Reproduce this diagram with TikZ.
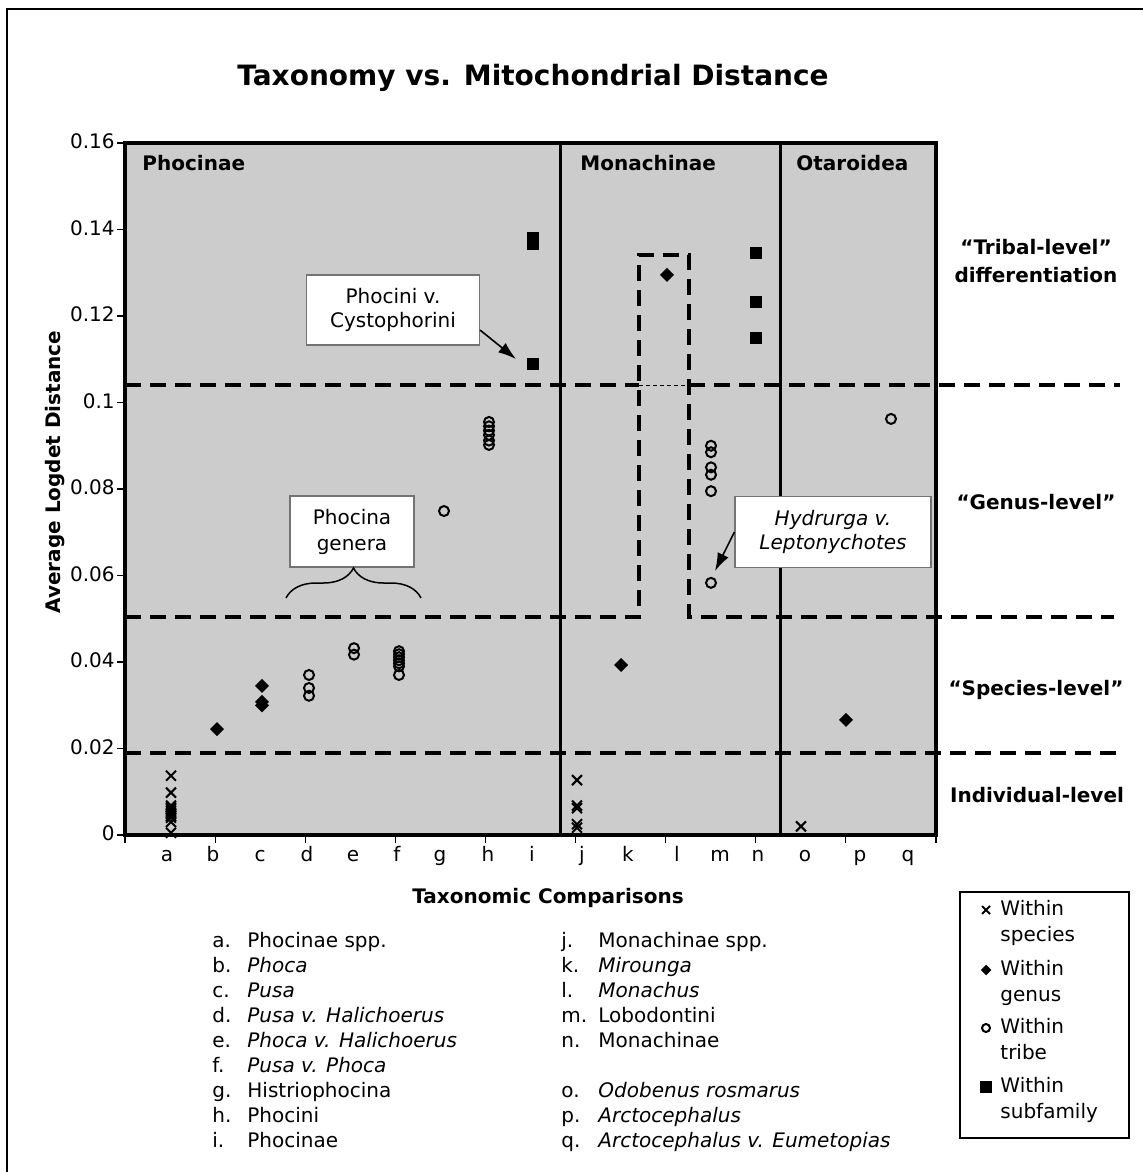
\documentclass[tikz,border=0pt]{standalone}
\usepackage{fontspec}
\setmainfont{DejaVu Sans}
\usetikzlibrary{arrows.meta,decorations.pathreplacing}
\definecolor{plotgray}{gray}{0.80}
\definecolor{boxedge}{gray}{0.45}

\tikzset{
  tl/.style={inner sep=0pt, text height=7.5pt, text depth=2pt, font=\fontsize{10}{12}\selectfont},
  tlb/.style={tl, font=\fontsize{10}{12}\selectfont\bfseries},
  levellabel/.style={inner sep=0pt, font=\fontsize{10}{14}\selectfont\bfseries, align=center},
  callbox/.style={draw=boxedge, line width=0.6pt, fill=white, inner sep=0pt, align=center,
                  font=\fontsize{10}{12}\selectfont},
  callarrow/.style={line width=0.8pt, -{Latex[length=9pt,width=6pt]}},
  levelline/.style={line width=2pt, dash pattern=on 8pt off 4.5pt},
  thinline/.style={line width=0.5pt, dash pattern=on 2pt off 1.5pt},
  xmk/.pic={\draw[line width=1pt] (-5,-5) -- (5,5) (-5,5) -- (5,-5);},
  dmk/.pic={\fill (0,-7) -- (7,0) -- (0,7) -- (-7,0) -- cycle;},
  omk/.pic={\draw[line width=1pt] (0,0) circle[radius=5];},
  smk/.pic={\fill (-6,-6) rectangle (6,6);},
}

\begin{document}
\begin{tikzpicture}[x=0.5pt,y=-0.5pt]
\useasboundingbox (0,0) rectangle (1143,1172);
\fill[white] (0,0) rectangle (1143,1172);

% outer frame (left and top edges)
\draw[line width=1.2pt] (7,1172) -- (7,9) -- (1143,9);

% title
\node[inner sep=0pt, anchor=base, font=\fontsize{14}{16}\selectfont\bfseries] (title) at (533,86)
  {Taxonomy vs. Mitochondrial Distance};

% plot area
\fill[plotgray] (125,143) rectangle (936,835);

% level thresholds
\draw[levelline] (125,385) -- (639,385);
\draw[levelline] (689,385) -- (1120,385);
\draw[thinline] (639,385) -- (689,385);
\draw[levelline] (125,617) -- (639,617) -- (639,255) -- (689,255) -- (689,617) -- (1114,617);
\draw[levelline] (125,753) -- (1120,753);

% subfamily separators
\draw[line width=1.5pt] (560,143) -- (560,835);
\draw[line width=1.5pt] (780,143) -- (780,835);

% frame and ticks
\draw[line width=2pt] (125,143) rectangle (936,835);
\foreach \k in {0,...,8}
  \draw[line width=0.6pt] (117,{835-86.5*\k}) -- (125,{835-86.5*\k});
\foreach \k in {0,...,9}
  \draw[line width=0.6pt] ({125+90.11*\k},835) -- ({125+90.11*\k},843);

% y tick labels
\foreach \v [count=\n] in {0,0.02,0.04,0.06,0.08,0.1,0.12,0.14,0.16}
  \node[tl, anchor=east] (yt\n) at (115,{835-86.5*(\n-1)}) {\v};

% x tick labels
\foreach \lab/\xx in {a/167,b/213,c/260,d/307,e/353,f/397,g/440,h/488,i/532,
                      j/582,k/628,l/677,m/720,n/758,o/805,p/860,q/908}
  \node[tl] (xt\lab) at (\xx,856) {\lab};

% axis titles
\node[tlb, rotate=90] (ytitle) at (55,472) {Average Logdet Distance};
\node[tlb] (xtitle) at (548,898) {Taxonomic Comparisons};

% group labels
\node[tlb, anchor=west] (gphoc) at (142,165) {Phocinae};
\node[tlb, anchor=west] (gmona) at (580,165) {Monachinae};
\node[tlb, anchor=west] (gotar) at (796,165) {Otaroidea};

% level labels
\node[levellabel] (lvtrib) at (1036,261) {“Tribal-level”\\differentiation};
\node[levellabel] (lvgen) at (1036,502) {“Genus-level”};
\node[levellabel] (lvspe) at (1036,690) {“Species-level”};
\node[levellabel] (lvind) at (1037,795) {Individual-level};

% within species
\foreach \v in {0.0137,0.0098,0.0068,0.0064,0.006,0.0056,0.0052,0.0048,0.0044,0.004,0.003,0.0005}
  \pic at (171,{835-4325*\v}) {xmk};
\foreach \v in {0.0127,0.0068,0.0062,0.0025,0.0017}
  \pic at (577,{835-4325*\v}) {xmk};
\pic at (801,{835-4325*0.002}) {xmk};

% within genus
\foreach \xx/\v in {217/0.0245,262/0.0345,262/0.0308,262/0.0300,621/0.0393,667/0.1295,846/0.0266}
  \pic at (\xx,{835-4325*\v}) {dmk};

% within tribe
\foreach \xx/\v in {309/0.037,309/0.034,309/0.0322,
                    354/0.0432,354/0.0417,
                    399/0.0425,399/0.0418,399/0.0411,399/0.0404,399/0.0397,399/0.039,399/0.037,
                    444/0.0749,
                    489/0.0955,489/0.0945,489/0.0935,489/0.0925,489/0.0912,489/0.0902,
                    711/0.0900,711/0.0885,711/0.0850,711/0.0833,711/0.0795,711/0.0583,
                    891/0.0962}
  \pic at (\xx,{835-4325*\v}) {omk};

% within subfamily
\foreach \xx/\v in {533/0.138,533/0.1373,533/0.1366,533/0.1088,756/0.1345,756/0.1232,756/0.1150}
  \pic at (\xx,{835-4325*\v}) {smk};

% callouts
\node[callbox, minimum width=86.5pt, minimum height=35pt] (cb1) at (393,310) {Phocini v.\\Cystophorini};
\coordinate (t1) at (516,359);
\draw[callarrow] (cb1.-13) -- (t1);

\node[callbox, minimum width=98pt, minimum height=35.5pt, font=\fontsize{10}{12}\selectfont\itshape]
  (cb2) at (833,532) {Hydrurga v.\\Leptonychotes};
\coordinate (t2) at (715,571);
\draw[callarrow] (cb2.west) -- (t2);

\node[callbox, minimum width=62pt, minimum height=35.5pt, font=\fontsize{10}{13}\selectfont]
  (cb3) at (352,531.5) {Phocina\\genera};
\coordinate (brL) at (286,598);
\coordinate (brR) at (421,598);
\draw[line width=0.75pt, decorate, decoration={brace, amplitude=15pt}] (brL) -- (brR);

% comparison list
\foreach \lt/\tx [count=\n] in {a./Phocinae spp., b./\textit{Phoca}, c./\textit{Pusa},
    d./\textit{Pusa v. Halichoerus}, e./\textit{Phoca v. Halichoerus}, f./\textit{Pusa v. Phoca},
    g./Histriophocina, h./Phocini, i./Phocinae}
{
  \node[tl, anchor=west] (la\n) at (212,{942+25*(\n-1)}) {\lt};
  \node[tl, anchor=west] (lt\n) at (247,{942+25*(\n-1)}) {\tx};
}
\foreach \lt/\tx/\yy [count=\n] in {j./Monachinae spp./942, k./\textit{Mirounga}/967,
    l./\textit{Monachus}/992, m./Lobodontini/1017, n./Monachinae/1042,
    o./\textit{Odobenus rosmarus}/1092, p./\textit{Arctocephalus}/1117,
    q./\textit{Arctocephalus v. Eumetopias}/1142}
{
  \node[tl, anchor=west] (ma\n) at (561,\yy) {\lt};
  \node[tl, anchor=west] (mt\n) at (598,\yy) {\tx};
}

% legend
\node[draw, line width=1pt, inner sep=0pt, minimum width=84.5pt, minimum height=123pt] (legend) at (1044.5,1015) {};
\pic[scale=0.8] at (986,910) {xmk};
\pic[scale=0.75] at (986,970) {dmk};
\pic[scale=0.8] at (986,1028) {omk};
\pic[scale=0.95] at (986,1087) {smk};
\foreach \ya/\tb [count=\n] in {910/species, 970/genus, 1028/tribe, 1087/subfamily}
{
  \node[tl, anchor=west] (lw\n) at (1000,\ya) {Within};
  \node[tl, anchor=west] (lk\n) at (1000,\ya+26) {\tb};
}
\end{tikzpicture}
\end{document}
